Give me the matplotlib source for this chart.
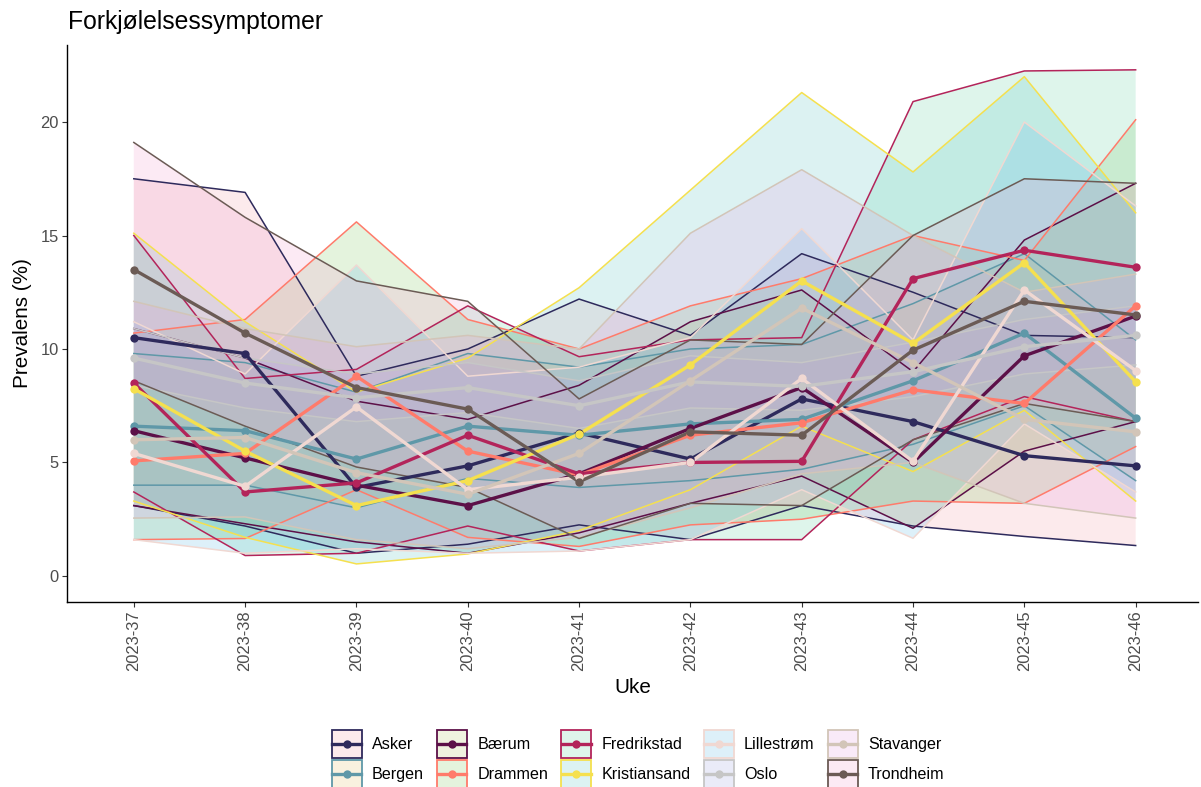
import matplotlib
matplotlib.use("Agg")
import matplotlib.pyplot as plt
from matplotlib.patches import Rectangle
from matplotlib.lines import Line2D
from matplotlib.legend_handler import HandlerBase
from matplotlib.colors import to_rgba

plt.rcParams['font.family'] = ['Liberation Sans', 'DejaVu Sans']

weeks = ["2023-37", "2023-38", "2023-39", "2023-40", "2023-41",
         "2023-42", "2023-43", "2023-44", "2023-45", "2023-46"]
cities = ["Asker", "Bergen", "Bærum", "Drammen", "Fredrikstad",
          "Kristiansand", "Lillestrøm", "Oslo", "Stavanger", "Trondheim"]

asker = [10.5, 9.8, 3.9, 4.85, 6.3, 5.15, 7.8, 6.8, 5.3, 4.85]
asker_lo = [3.1, 2.2, 1.0, 1.4, 2.25, 1.6, 3.1, 2.2, 1.74, 1.34]
asker_hi = [17.5, 16.9, 8.8, 10.0, 12.2, 10.6, 14.2, 12.5, 10.6, 10.5]

bergen = [6.6, 6.4, 5.15, 6.6, 6.2, 6.7, 6.9, 8.6, 10.7, 6.95]
bergen_lo = [4.0, 4.0, 3.0, 4.3, 3.9, 4.2, 4.7, 5.8, 7.5, 4.2]
bergen_hi = [9.8, 9.4, 8.1, 9.8, 9.2, 10.0, 10.2, 12.0, 14.2, 10.4]

baerum = [6.4, 5.2, 4.0, 3.1, 4.5, 6.5, 8.3, 5.0, 9.7, 11.45]
baerum_lo = [3.1, 2.3, 1.5, 1.0, 1.9, 3.2, 4.4, 2.1, 5.5, 6.8]
baerum_hi = [10.9, 9.6, 7.7, 6.9, 8.4, 11.2, 12.6, 9.0, 14.8, 17.3]

drammen = [5.07, 5.4, 8.8, 5.5, 4.45, 6.2, 6.75, 8.2, 7.6, 11.9]
drammen_lo = [1.6, 1.65, 3.8, 1.7, 1.3, 2.25, 2.5, 3.3, 3.2, 5.7]
drammen_hi = [10.7, 11.3, 15.6, 11.3, 10.0, 11.9, 13.1, 15.0, 13.9, 20.1]

fredrikstad = [8.5, 3.7, 4.1, 6.2, 4.5, 5.0, 5.05, 13.1, 14.35, 13.6]
fredrikstad_lo = [3.7, 0.9, 1.0, 2.2, 1.1, 1.6, 1.6, 6.0, 7.9, 6.8]
fredrikstad_hi = [15.0, 8.7, 9.1, 11.9, 9.66, 10.4, 10.5, 20.9, 22.25, 22.3]

kristiansand = [8.25, 5.5, 3.1, 4.2, 6.25, 9.3, 13.0, 10.25, 13.8, 8.55]
kristiansand_lo = [3.3, 1.7, 0.53, 0.97, 2.0, 3.8, 6.6, 4.6, 7.3, 3.3]
kristiansand_hi = [15.1, 11.2, 8.1, 9.6, 12.7, 17.0, 21.3, 17.8, 22.0, 16.0]

lillestrom = [5.4, 3.95, 7.45, 3.8, 4.35, 5.0, 8.7, 5.05, 12.6, 9.05]
lillestrom_lo = [1.6, 1.0, 1.2, 1.0, 1.1, 1.6, 3.8, 1.66, 6.7, 3.7]
lillestrom_hi = [11.2, 8.9, 13.7, 8.8, 9.2, 10.5, 15.3, 10.4, 20.0, 16.3]

oslo = [9.6, 8.5, 7.85, 8.3, 7.5, 8.55, 8.35, 9.0, 10.1, 10.6]
oslo_lo = [8.4, 7.4, 6.8, 7.2, 6.5, 7.4, 7.3, 7.9, 8.9, 9.3]
oslo_hi = [10.9, 9.6, 8.9, 9.4, 8.6, 9.7, 9.4, 10.3, 11.3, 11.9]

stavanger = [6.0, 6.1, 4.55, 3.6, 5.4, 8.6, 11.8, 9.4, 6.9, 6.35]
stavanger_lo = [2.55, 2.6, 1.6, 1.2, 1.7, 3.0, 4.5, 5.0, 3.2, 2.55]
stavanger_hi = [12.1, 10.9, 10.1, 10.6, 10.0, 15.1, 17.9, 15.0, 12.5, 13.3]

trondheim = [13.5, 10.7, 8.3, 7.35, 4.15, 6.35, 6.2, 9.95, 12.1, 11.5]
trondheim_lo = [8.6, 6.6, 4.8, 3.9, 1.65, 3.2, 3.1, 6.0, 7.6, 6.8]
trondheim_hi = [19.1, 15.8, 13.0, 12.1, 7.8, 10.4, 10.2, 15.0, 17.5, 17.3]

values = [asker, bergen, baerum, drammen, fredrikstad,
          kristiansand, lillestrom, oslo, stavanger, trondheim]
lows = [asker_lo, bergen_lo, baerum_lo, drammen_lo, fredrikstad_lo,
        kristiansand_lo, lillestrom_lo, oslo_lo, stavanger_lo, trondheim_lo]
highs = [asker_hi, bergen_hi, baerum_hi, drammen_hi, fredrikstad_hi,
         kristiansand_hi, lillestrom_hi, oslo_hi, stavanger_hi, trondheim_hi]

line_colors = ["#2e2a5c", "#5f98a8", "#5c1048", "#ff7b6b", "#b3245a",
               "#f5e04e", "#f0d8d2", "#c6c6c6", "#d2c5b8", "#6b5b55"]
fill_colors = ["#f2a0ac", "#e6c070", "#b8c470", "#88cc68", "#6cd2a6",
               "#60c8c8", "#66bce8", "#a0a6e2", "#e8a0e0", "#f2a0d0"]
fill_alpha = 0.22

fig = plt.figure(figsize=(12.01, 7.87), dpi=100)
ax = fig.add_axes([0.0558, 0.235, 0.9417, 0.708])

x = list(range(len(weeks)))

for lo, hi, lc, fc in zip(lows, highs, line_colors, fill_colors):
    ax.fill_between(x, lo, hi, facecolor=fc, alpha=fill_alpha, linewidth=0, zorder=1)
    ax.plot(x, hi, color=lc, lw=1.1, zorder=2)
    ax.plot(x, lo, color=lc, lw=1.1, zorder=2)

for v, lc in zip(values, line_colors):
    ax.plot(x, v, color=lc, lw=2.4, zorder=3, solid_capstyle='butt')
for v, lc in zip(values, line_colors):
    ax.plot(x, v, linestyle='none', marker='o', markersize=6,
            color=lc, markeredgewidth=0, zorder=4)

ax.set_xlim(-0.6, 9.56)
ax.set_ylim(-1.15, 23.4)
ax.set_xticks(x)
ax.set_xticklabels(weeks, rotation=90, fontsize=11.9, color='#4d4d4d')
ax.set_yticks([0, 5, 10, 15, 20])
ax.set_yticklabels(['0', '5', '10', '15', '20'], fontsize=11.9, color='#4d4d4d')
ax.tick_params(axis='both', length=3.5, width=0.8, color='#333333', pad=2.5)
for side in ['top', 'right']:
    ax.spines[side].set_visible(False)
for side in ['left', 'bottom']:
    ax.spines[side].set_linewidth(1.0)
    ax.spines[side].set_color('black')

ax.set_xlabel('Uke', fontsize=14.9, labelpad=5)
ax.set_ylabel('Prevalens (%)', fontsize=14.9, labelpad=6)
fig.text(0.0566, 0.972, 'Forkjølelsessymptomer', fontsize=17.8, ha='left', va='center')


class KeyHandler(HandlerBase):
    def create_artists(self, legend, orig_handle, xdescent, ydescent,
                       width, height, fontsize, trans):
        lc, fc = orig_handle
        rect = Rectangle((-xdescent + 0.6, -ydescent + 0.6), width - 1.2, height - 1.2,
                         facecolor=to_rgba(fc, fill_alpha), edgecolor=lc,
                         linewidth=1.3, transform=trans)
        yc = -ydescent + height / 2
        ln = Line2D([-xdescent + 1, -xdescent + width - 1], [yc, yc], color=lc,
                    lw=2.4, transform=trans)
        pt = Line2D([-xdescent + width / 2], [yc], color=lc, marker='o',
                    markersize=6, markeredgewidth=0, linestyle='none',
                    transform=trans)
        return [rect, ln, pt]


handles = [(lc, fc) for lc, fc in zip(line_colors, fill_colors)]

leg = fig.legend(handles, cities, ncol=5, loc='upper left',
                 bbox_to_anchor=(0.2756, 0.0737), frameon=False, fontsize=11.6,
                 handler_map={tuple: KeyHandler()},
                 handlelength=1.95, handleheight=2.5, columnspacing=0.76,
                 labelspacing=0.0, handletextpad=0.6, borderpad=0.0,
                 borderaxespad=0.0)

fig.savefig('out.png', dpi=100)
